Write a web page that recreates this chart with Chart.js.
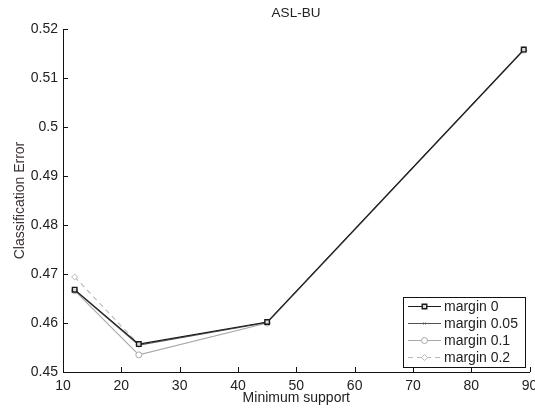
<!DOCTYPE html>
<html>
<head>
<meta charset="utf-8">
<script src="https://cdn.jsdelivr.net/npm/chart.js@4.4.1/dist/chart.umd.min.js"></script>
<style>
  html, body { margin: 0; padding: 0; background: #fff; }
  #wrap { width: 535px; height: 408px; }
</style>
</head>
<body>
<div id="wrap"><canvas id="c" width="535" height="408"></canvas></div>
<script>
// Minimum support values (x) and classification error per margin setting
const minSupport = [12, 23, 45, 89];
const margin0    = [0.4668, 0.4557, 0.4602, 0.5158];
const margin005  = [0.4667, 0.4555, 0.4601, 0.5157];
const margin01   = [0.4666, 0.4535, 0.4600, 0.5157];
const margin02   = [0.4694, 0.4556, 0.4601, 0.5157];
const seriesNames = ['margin 0', 'margin 0.05', 'margin 0.1', 'margin 0.2'];
const xTicks = [10, 20, 30, 40, 50, 60, 70, 80, 90];
const yTicks = [0.45, 0.46, 0.47, 0.48, 0.49, 0.5, 0.51, 0.52];

const FONT = '"Liberation Sans", Arial, sans-serif';

function pts(ys) { return minSupport.map((x, i) => ({ x: x, y: ys[i] })); }

const styles = [
  { color: '#1a1a1a', pointStyle: 'rect', radius: 3.2, bg: '#ddd', dash: [], pbw: 1.4 },
  { color: '#555', pointStyle: 'crossRot', radius: 1.5, bg: '#555', dash: [], pbw: 0.8 },
  { color: '#a8a8a8', pointStyle: 'circle', radius: 3, bg: '#fff', dash: [], pbw: 1 },
  { color: '#b8b8b8', pointStyle: 'rectRot', radius: 3, bg: '#fff', dash: [5, 4], pbw: 1 }
];
const values = [margin0, margin005, margin01, margin02];

const datasets = values.map((v, i) => ({
  label: seriesNames[i],
  data: pts(v),
  borderColor: styles[i].color,
  backgroundColor: styles[i].bg,
  borderWidth: 1.1,
  borderDash: styles[i].dash,
  pointStyle: styles[i].pointStyle,
  pointRadius: styles[i].radius,
  pointBorderColor: styles[i].color,
  pointBackgroundColor: styles[i].bg,
  pointBorderWidth: styles[i].pbw,
  tension: 0
}));

// Inward tick marks along left and bottom axes, plus title and legend box
const decor = {
  id: 'decor',
  afterDraw(chart) {
    const ctx = chart.ctx;
    const area = chart.chartArea;
    const xs = chart.scales.x, ys = chart.scales.y;
    ctx.save();
    ctx.strokeStyle = '#111';
    ctx.lineWidth = 1;
    ctx.beginPath();
    xTicks.forEach(t => {
      const px = Math.round(xs.getPixelForValue(t)) + 0.5;
      ctx.moveTo(px, area.bottom);
      ctx.lineTo(px, area.bottom - 5);
    });
    yTicks.forEach(t => {
      const py = Math.round(ys.getPixelForValue(t)) + 0.5;
      ctx.moveTo(area.left, py);
      ctx.lineTo(area.left + 5, py);
    });
    ctx.stroke();

    // title
    ctx.fillStyle = '#222';
    ctx.font = '13.5px ' + FONT;
    ctx.textAlign = 'center';
    ctx.textBaseline = 'middle';
    ctx.fillText('ASL-BU', 296, 13);

    // legend
    const bx = 403.5, by = 297.5, bw = 122, bh = 70;
    ctx.fillStyle = '#fff';
    ctx.fillRect(bx, by, bw, bh);
    ctx.strokeStyle = '#111';
    ctx.strokeRect(bx, by, bw, bh);
    ctx.textAlign = 'left';
    ctx.font = '14px ' + FONT;
    chart.data.datasets.forEach((ds, i) => {
      const y = 306.5 + i * 17;
      ctx.save();
      ctx.strokeStyle = ds.borderColor;
      ctx.setLineDash(ds.borderDash || []);
      ctx.lineWidth = 1;
      ctx.beginPath();
      ctx.moveTo(408, y);
      ctx.lineTo(441, y);
      ctx.stroke();
      ctx.setLineDash([]);
      ctx.fillStyle = ds.pointBackgroundColor;
      ctx.strokeStyle = ds.pointBorderColor;
      ctx.lineWidth = ds.pointBorderWidth;
      Chart.helpers.drawPoint(ctx, { pointStyle: ds.pointStyle, radius: ds.pointRadius, borderWidth: ds.pointBorderWidth, rotation: 0 }, 424.5, y);
      ctx.restore();
      ctx.fillStyle = '#222';
      ctx.fillText(ds.label, 444, y + 1);
    });
    ctx.restore();
  }
};

new Chart(document.getElementById('c'), {
  type: 'line',
  data: { datasets: datasets },
  plugins: [decor],
  options: {
    responsive: false,
    animation: false,
    devicePixelRatio: 1,
    layout: { padding: { top: 29, right: 5, left: 0, bottom: 0 } },
    plugins: { legend: { display: false }, tooltip: { enabled: false }, title: { display: false } },
    scales: {
      x: {
        type: 'linear',
        min: 10, max: 90,
        afterBuildTicks(s) { s.ticks = xTicks.map(v => ({ value: v })); },
        afterFit(s) { s.height = 36; s.paddingRight = 0; s.paddingLeft = 0; },
        ticks: { color: '#222', font: { family: FONT, size: 14 }, padding: 6, maxRotation: 0 },
        grid: { display: false, drawTicks: false },
        border: { color: '#111', width: 1 },
        title: { display: true, text: 'Minimum support', color: '#222', font: { family: FONT, size: 14 }, padding: { top: 0, bottom: 1 } }
      },
      y: {
        min: 0.45, max: 0.52,
        afterBuildTicks(s) { s.ticks = yTicks.map(v => ({ value: v })); },
        afterFit(s) { s.width = 63; s.paddingTop = 0; s.paddingBottom = 0; },
        ticks: {
          color: '#222', font: { family: FONT, size: 14 }, padding: 5,
          callback: v => String(parseFloat(v.toFixed(2)))
        },
        grid: { display: false, drawTicks: false },
        border: { color: '#111', width: 1 },
        title: { display: true, text: 'Classification Error', color: '#3a3030', font: { family: FONT, size: 14 }, padding: { top: 12, bottom: 0 } }
      }
    }
  }
});
</script>
</body>
</html>
